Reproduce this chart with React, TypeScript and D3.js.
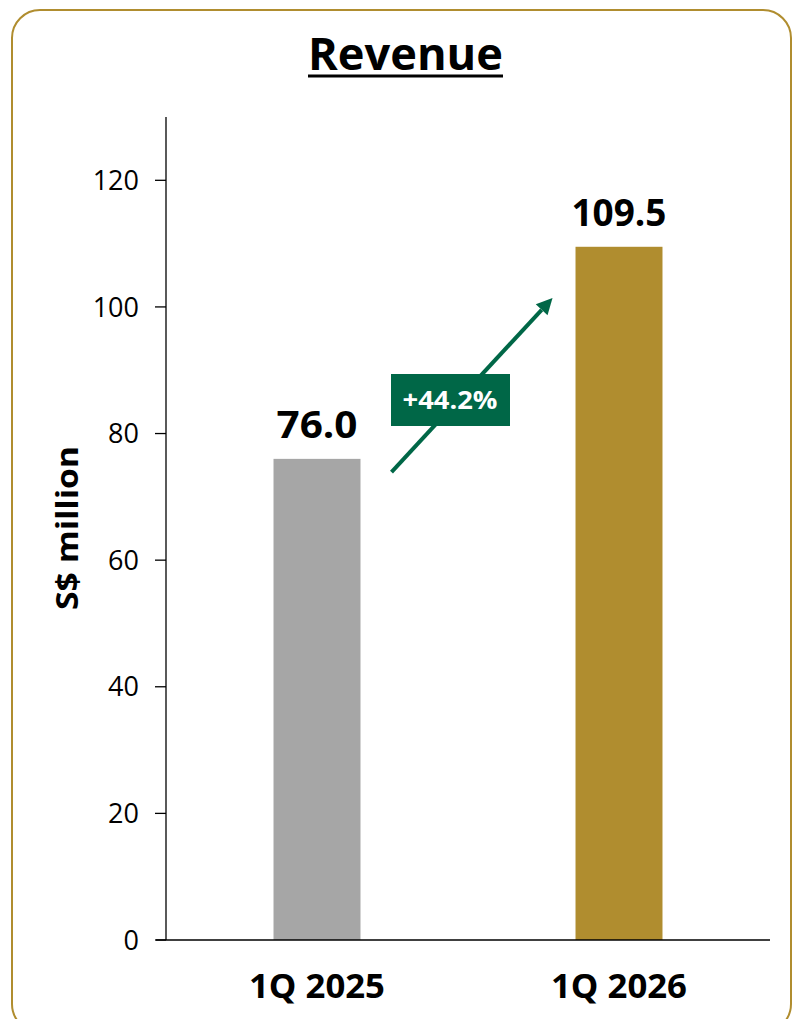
import React from "react";
import * as d3 from "d3";

const categories = ["1Q 2025", "1Q 2026"];
const values = [76.0, 109.5];
const valueLabels = ["76.0", "109.5"];
const barColors = ["#A6A6A6", "#B08D2F"];
const yTicks = [0, 20, 40, 60, 80, 100, 120];
const growthLabel = "+44.2%";
const title = "Revenue";
const yTitle = "S$ million";

const W = 793;
const H = 1019;
const FONT = "'Open Sans', 'DejaVu Sans', sans-serif";

export default function App() {
  const x = d3.scaleBand().domain(categories).range([166, 770]).paddingInner(0.712).paddingOuter(0.356);
  const y = d3.scaleLinear().domain([0, 130]).range([940, 117]);
  const bw = x.bandwidth();

  const x1 = (x(categories[0]) as number) + bw;
  const x2 = x(categories[1]) as number;
  const ax0 = x1 + 31, ay0 = y(73.9);
  const ax1 = x2 - 23, ay1 = y(101.4);
  const ang = Math.atan2(ay1 - ay0, ax1 - ax0);
  const headLen = 16, headW = 8;
  const hx = ax1 - headLen * Math.cos(ang), hy = ay1 - headLen * Math.sin(ang);
  const px = -Math.sin(ang) * headW, py = Math.cos(ang) * headW;

  return (
    <svg width={W} height={H} style={{ position: "absolute", left: 0, top: 0, fontFamily: FONT }}>
      <rect x={0} y={0} width={W} height={H} fill="#fff" />
      <rect x={12} y={10} width={779} height={1022} rx={28} ry={28} fill="none" stroke="#B08D2F" strokeWidth={2} />
      <text x={405.5} y={70} textAnchor="middle" fontSize={44} fontWeight={700} fill="#000" textLength={195} lengthAdjust="spacingAndGlyphs">{title}</text>
      <line x1={308} x2={503} y1={76} y2={76} stroke="#000" strokeWidth={3} />

      {categories.map((c, i) => (
        <rect key={c} x={x(c)} y={y(values[i])} width={bw} height={y(0) - y(values[i])} fill={barColors[i]} />
      ))}

      <line x1={166} x2={166} y1={117} y2={940} stroke="#000" strokeWidth={1.3} />
      <line x1={156} x2={770} y1={940} y2={940} stroke="#000" strokeWidth={1.3} />
      {yTicks.map((t) => (
        <g key={t}>
          <line x1={155} x2={166} y1={y(t)} y2={y(t)} stroke="#000" strokeWidth={1.3} />
          <text x={139} y={y(t)} dy="0.36em" textAnchor="end" fontSize={27} fill="#000">{t}</text>
        </g>
      ))}
      <text transform={`translate(78,528) rotate(-90)`} textAnchor="middle" fontSize={31} fontWeight={700} fill="#000" textLength={164} lengthAdjust="spacingAndGlyphs">{yTitle}</text>

      {categories.map((c, i) => (
        <text key={c} x={(x(c) as number) + bw / 2} y={998} textAnchor="middle" fontSize={34} fontWeight={700} fill="#000" textLength={136} lengthAdjust="spacingAndGlyphs">{c}</text>
      ))}
      {categories.map((c, i) => (
        <text key={c + "v"} x={(x(c) as number) + bw / 2} y={y(values[i]) - 21} textAnchor="middle" fontSize={37} fontWeight={700} fill="#000" textLength={i === 0 ? 81 : 95} lengthAdjust="spacingAndGlyphs">{valueLabels[i]}</text>
      ))}

      <line x1={ax0} y1={ay0} x2={hx} y2={hy} stroke="#006747" strokeWidth={4} />
      <path d={`M${ax1},${ay1} L${hx + px},${hy + py} L${hx - px},${hy - py} Z`} fill="#006747" />
      <rect x={391} y={374} width={119} height={52} fill="#006747" />
      <text x={450} y={400} dy="0.36em" textAnchor="middle" fontSize={25} fontWeight={700} fill="#fff" textLength={95} lengthAdjust="spacingAndGlyphs">{growthLabel}</text>
    </svg>
  );
}
